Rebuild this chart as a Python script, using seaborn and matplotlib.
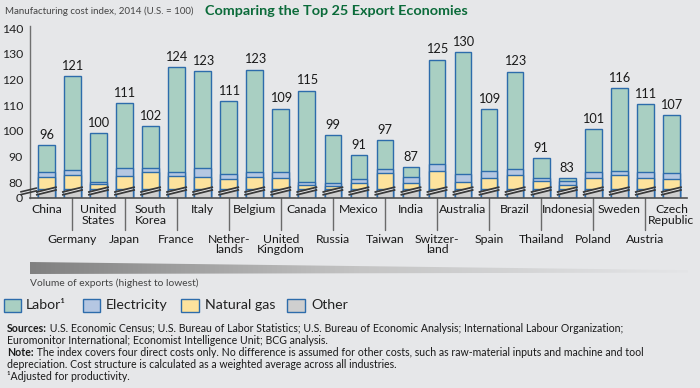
import numpy as np
import pandas as pd
import matplotlib
matplotlib.use("Agg")
import matplotlib.pyplot as plt
import seaborn as sns
from matplotlib.patches import Polygon, Rectangle
from matplotlib.colors import LinearSegmentedColormap
import matplotlib.transforms as mtransforms

# ---------------- data ----------------
countries = ["China", "Germany", "United\nStates", "Japan", "South\nKorea", "France",
             "Italy", "Nether-\nlands", "Belgium", "United\nKingdom", "Canada", "Russia",
             "Mexico", "Taiwan", "India", "Switzer-\nland", "Australia", "Spain", "Brazil",
             "Thailand", "Indonesia", "Poland", "Sweden", "Austria", "Czech\nRepublic"]
index_labels = [96, 121, 100, 111, 102, 124, 123, 111, 123, 109, 115, 99, 91, 97, 87,
                125, 130, 109, 123, 91, 83, 101, 116, 111, 107]
other = [77.4, 77.4, 77.4, 77.4, 77.4, 77.4, 77.4, 77.4, 77.4, 77.4, 77.4, 77.4, 77.4,
         77.4, 77.4, 77.4, 77.4, 77.4, 77.4, 77.4, 77.4, 77.4, 77.4, 77.4, 77.4]
natural_gas = [4.8, 5.4, 1.8, 5.2, 6.7, 5.0, 4.5, 3.8, 4.8, 4.2, 1.6, 1.0, 2.2, 6.1, 2.2,
               7.1, 2.8, 4.4, 5.6, 3.2, 1.4, 4.4, 5.3, 4.4, 3.8]
electricity = [1.8, 1.8, 1.1, 2.8, 1.6, 1.6, 3.6, 2.0, 1.9, 2.5, 1.3, 1.5, 1.6, 1.6, 2.3,
               2.6, 3.0, 2.7, 2.1, 1.2, 1.6, 2.1, 1.8, 2.1, 2.3]
labor = [10.5, 36.8, 19.0, 25.4, 16.1, 41.0, 37.9, 28.4, 39.8, 24.6, 35.4, 18.4, 9.4,
         11.3, 3.9, 40.7, 47.4, 23.9, 38.0, 7.7, 1.2, 16.7, 32.1, 26.7, 22.8]
y_ticks = [0, 80, 90, 100, 110, 120, 130, 140]
legend_labels = ["Labor\u00b9", "Electricity", "Natural gas", "Other"]

# ---------------- styling ----------------
BG = "#e6e7e9"
EDGE = "#2d6cab"
C_LABOR, C_ELEC, C_GAS, C_OTHER = "#a9cfc2", "#b5c7e2", "#fde39d", "#cfcfcf"
FONT = ["Lato", "DejaVu Sans"]

sns.set_theme(style="white")
plt.rcParams["font.family"] = FONT

df = pd.DataFrame({"key": [f"c{i}" for i in range(len(countries))],
                   "other": other, "gas": natural_gas, "elec": electricity, "labor": labor})
df["c_other"] = df["other"]
df["c_gas"] = df["c_other"] + df["gas"]
df["c_elec"] = df["c_gas"] + df["elec"]
df["c_total"] = df["c_elec"] + df["labor"]

fig = plt.figure(figsize=(7.0, 3.88), dpi=100)
fig.patch.set_facecolor(BG)
ax = fig.add_axes([30 / 700, 190.3 / 388, 657 / 700, 172 / 388])
ax.set_facecolor(BG)

# broken axis: compress 0..76 into a short stub
BREAK, BASE = 76.0, 74.0
def fwd(v):
    v = np.asarray(v, float)
    return np.where(v >= BREAK, v, BASE + v * (BREAK - BASE) / BREAK)
def inv(d):
    d = np.asarray(d, float)
    return np.where(d >= BREAK, d, (d - BASE) * BREAK / (BREAK - BASE))
ax.set_yscale("function", functions=(fwd, inv))

order = list(df["key"])
layers = [("c_total", C_LABOR), ("c_elec", C_ELEC), ("c_gas", C_GAS), ("c_other", C_OTHER)]
n_before = 0
for col, colr in layers:
    n_before = len(ax.patches)
    sns.barplot(data=df, x="key", y=col, order=order, color=colr, saturation=1,
                width=0.64, edgecolor=EDGE, linewidth=1.0, errorbar=None, ax=ax)
other_bars = ax.patches[n_before:]

ax.set_xlim(-0.63, 24.6)
ax.set_ylim(0, 141)
ax.set_yticks(y_ticks)
ax.set_yticklabels([str(t) for t in y_ticks], fontsize=8.8, color="#222")
ax.tick_params(axis="y", length=0, pad=5)
ax.set_xticks([])
ax.set_xlabel("")
ax.set_ylabel("")
for s in ["top", "right"]:
    ax.spines[s].set_visible(False)
ax.spines["left"].set_color("#707070")
ax.spines["left"].set_linewidth(1.0)
ax.spines["bottom"].set_color("#505050")
ax.spines["bottom"].set_linewidth(1.2)

# break marks on each bar
blend = mtransforms.blended_transform_factory(ax.transData, ax.transAxes)
for p in other_bars:
    x0 = p.get_x(); x1 = x0 + p.get_width()
    ext = 0.08
    poly = Polygon([(x0, 0.020), (x1, 0.042), (x1, 0.058), (x0, 0.036)],
                   closed=True, transform=blend, facecolor="#f4f4f4", edgecolor="none",
                   zorder=5, clip_on=False)
    ax.add_patch(poly)
    for ya, yb in [(0.016, 0.046), (0.032, 0.062)]:
        ax.plot([x0 - ext, x1 + ext], [ya, yb], transform=blend, color="#3a3a3a",
                lw=1.3, zorder=6, clip_on=False, solid_capstyle="butt")

# break mark on y-axis
for ya, yb in [(0.018, 0.040), (0.034, 0.056)]:
    ax.plot([-0.014, 0.010], [ya, yb], transform=ax.transAxes, color="#3a3a3a",
            lw=1.2, zorder=6, clip_on=False)

# value labels on top of bars
for i, (tot, lab) in enumerate(zip(df["c_total"], index_labels)):
    ax.annotate(str(lab), xy=(i, tot), xytext=(0, 3), textcoords="offset points",
                ha="center", va="bottom", fontsize=9.2, color="#1a1a1a")

# country labels in two staggered rows
for i, name in enumerate(countries):
    if i % 2 == 0:
        ax.annotate(name, xy=(i, 0), xycoords=blend, xytext=(0, -4.5),
                    textcoords="offset points", ha="center", va="top", fontsize=8.8,
                    color="#1a1a1a", linespacing=0.95, annotation_clip=False)
    else:
        ax.plot([i, i], [0, -0.186], transform=blend, color="#6a6a6a", lw=1.0,
                clip_on=False)
        ax.annotate(name, xy=(i, 0), xycoords=blend, xytext=(0, -26),
                    textcoords="offset points", ha="center", va="top", fontsize=8.8,
                    color="#1a1a1a", linespacing=0.95, annotation_clip=False)

# titles
fig.text(5 / 700, 1 - 11 / 388, "Manufacturing cost index, 2014 (U.S. = 100)",
         fontsize=7.0, color="#444", va="center", ha="left")
fig.text(205 / 700, 1 - 11 / 388, "Comparing the Top 25 Export Economies",
         fontsize=10.4, color="#0b6b3a", fontweight="bold", va="center", ha="left")

# gradient wedge (volume of exports)
gax = fig.add_axes([30 / 700, (388 - 274) / 388, 658 / 700, 12 / 388])
gax.axis("off")
cmap = LinearSegmentedColormap.from_list("g", ["#808080", "#c4c4c4", "#e4e5e7"])
im = gax.imshow(np.linspace(0, 1, 256)[None, :], cmap=cmap, aspect="auto",
                extent=(0, 1, 0, 1))
wedge = Polygon([(0, 0), (1, 0.12), (1, 0.32), (0, 1)], closed=True,
                transform=gax.transAxes)
im.set_clip_path(wedge)
gax.set_xlim(0, 1); gax.set_ylim(0, 1)
fig.text(30 / 700, 1 - 283.5 / 388, "Volume of exports (highest to lowest)",
         fontsize=7.4, color="#444", va="center", ha="left")

# legend
leg_cols = [C_LABOR, C_ELEC, C_GAS, C_OTHER]
sq_x = [3.5, 82.5, 181, 287]
tx_x = [26, 106, 205, 311]
for c, lab, sx, tx in zip(leg_cols, legend_labels, sq_x, tx_x):
    fig.patches.append(Rectangle((sx / 700, 1 - 312 / 388), 17.5 / 700, 13.5 / 388,
                                 transform=fig.transFigure, facecolor=c,
                                 edgecolor=EDGE, linewidth=1.0))
    fig.text(tx / 700, 1 - 305 / 388, lab, fontsize=10.2, color="#222",
             va="center", ha="left")

# notes
renderer = fig.canvas.get_renderer()
def rich_line(x_px, y_px, parts, size=7.6):
    x = x_px
    for txt, weight in parts:
        t = fig.text(x / 700, 1 - y_px / 388, txt, fontsize=size, fontweight=weight,
                     color="#1a1a1a", va="center", ha="left")
        x += t.get_window_extent(renderer).width

rich_line(7, 328, [("Sources:", "bold"), (" U.S. Economic Census; U.S. Bureau of Labor Statistics; U.S. Bureau of Economic Analysis; International Labour Organization;", "normal")])
rich_line(7, 340.5, [("Euromonitor International; Economist Intelligence Unit; BCG analysis.", "normal")])
rich_line(7, 352.5, [("Note:", "bold"), (" The index covers four direct costs only. No difference is assumed for other costs, such as raw-material inputs and machine and tool", "normal")])
rich_line(7, 365, [("depreciation. Cost structure is calculated as a weighted average across all industries.", "normal")])
rich_line(7, 377, [("\u00b9Adjusted for productivity.", "normal")])

fig.savefig("out.png", dpi=100, facecolor=BG)
